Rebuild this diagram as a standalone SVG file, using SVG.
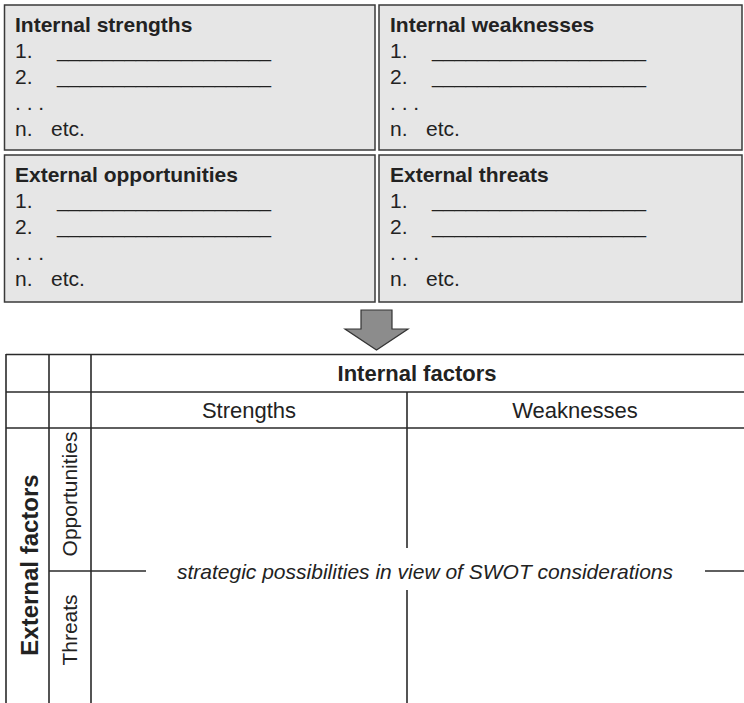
<svg xmlns="http://www.w3.org/2000/svg" width="744" height="703" viewBox="0 0 744 703">
  <style>
    .box { fill: #e6e6e6; stroke: #3a3a3a; stroke-width: 1.5; }
    .head { font-family: "Liberation Sans", Arial, sans-serif; font-weight: bold; font-size: 21px; fill: #222; }
    .item { font-family: "Liberation Sans", Arial, sans-serif; font-size: 21px; fill: #222; }
    .col { font-family: "Liberation Sans", Arial, sans-serif; font-size: 22px; fill: #222; }
    .title { font-family: "Liberation Sans", Arial, sans-serif; font-weight: bold; font-size: 22px; fill: #222; }
    .side { font-family: "Liberation Sans", Arial, sans-serif; font-weight: bold; font-size: 24px; fill: #222; }
    .grid { stroke: #2a2a2a; stroke-width: 1.6; fill: none; }
    .note { font-family: "Liberation Sans", Arial, sans-serif; font-style: italic; font-size: 21px; fill: #222; }
  </style>

  <!-- four input boxes -->
  <g id="internal-strengths">
    <rect class="box" x="4.5" y="5" width="370.5" height="145"/>
    <text class="head" x="15" y="32">Internal strengths</text>
    <text class="item" x="15" y="58">1.</text>
    <text class="item" x="57" y="57" textLength="214" lengthAdjust="spacingAndGlyphs">___________________</text>
    <text class="item" x="15" y="84">2.</text>
    <text class="item" x="57" y="83" textLength="214" lengthAdjust="spacingAndGlyphs">___________________</text>
    <text class="item" x="15" y="110">. . .</text>
    <text class="item" x="15" y="136">n.</text>
    <text class="item" x="51" y="136">etc.</text>
  </g>

  <g id="internal-weaknesses">
    <rect class="box" x="379" y="5" width="363" height="145"/>
    <text class="head" x="390" y="32">Internal weaknesses</text>
    <text class="item" x="390" y="58">1.</text>
    <text class="item" x="432" y="57" textLength="214" lengthAdjust="spacingAndGlyphs">___________________</text>
    <text class="item" x="390" y="84">2.</text>
    <text class="item" x="432" y="83" textLength="214" lengthAdjust="spacingAndGlyphs">___________________</text>
    <text class="item" x="390" y="110">. . .</text>
    <text class="item" x="390" y="136">n.</text>
    <text class="item" x="426" y="136">etc.</text>
  </g>

  <g id="external-opportunities">
    <rect class="box" x="4.5" y="155" width="370.5" height="147"/>
    <text class="head" x="15" y="182">External opportunities</text>
    <text class="item" x="15" y="208">1.</text>
    <text class="item" x="57" y="207" textLength="214" lengthAdjust="spacingAndGlyphs">___________________</text>
    <text class="item" x="15" y="234">2.</text>
    <text class="item" x="57" y="233" textLength="214" lengthAdjust="spacingAndGlyphs">___________________</text>
    <text class="item" x="15" y="260">. . .</text>
    <text class="item" x="15" y="286">n.</text>
    <text class="item" x="51" y="286">etc.</text>
  </g>

  <g id="external-threats">
    <rect class="box" x="379" y="155" width="363" height="147"/>
    <text class="head" x="390" y="182">External threats</text>
    <text class="item" x="390" y="208">1.</text>
    <text class="item" x="432" y="207" textLength="214" lengthAdjust="spacingAndGlyphs">___________________</text>
    <text class="item" x="390" y="234">2.</text>
    <text class="item" x="432" y="233" textLength="214" lengthAdjust="spacingAndGlyphs">___________________</text>
    <text class="item" x="390" y="260">. . .</text>
    <text class="item" x="390" y="286">n.</text>
    <text class="item" x="426" y="286">etc.</text>
  </g>

  <!-- block arrow down to the matrix -->
  <g id="connectors">
    <polygon points="361,310 392,310 392,329 408,329 376.5,350 345,329 361,329" fill="#8c8c8c" stroke="#333" stroke-width="1.2" stroke-linejoin="miter"/>
  </g>

  <!-- SWOT matrix -->
  <g id="matrix">
    <!-- horizontal rules -->
    <line class="grid" x1="6" y1="354.5" x2="744" y2="354.5"/>
    <line class="grid" x1="6" y1="392" x2="744" y2="392"/>
    <line class="grid" x1="6" y1="428" x2="744" y2="428"/>
    <!-- vertical rules -->
    <line class="grid" x1="6" y1="354" x2="6" y2="703"/>
    <line class="grid" x1="49" y1="354" x2="49" y2="703"/>
    <line class="grid" x1="91" y1="354" x2="91" y2="703"/>
    <line class="grid" x1="407" y1="392" x2="407" y2="548"/>
    <line class="grid" x1="407" y1="590" x2="407" y2="703"/>
    <!-- opportunities / threats divider, broken by the note -->
    <line class="grid" x1="49" y1="571" x2="146" y2="571"/>
    <line class="grid" x1="705" y1="571" x2="744" y2="571"/>

    <text class="title" x="417" y="381" text-anchor="middle">Internal factors</text>
    <text class="col" x="249" y="418" text-anchor="middle">Strengths</text>
    <text class="col" x="575" y="418" text-anchor="middle">Weaknesses</text>

    <text class="side" transform="translate(38,565) rotate(-90)" text-anchor="middle">External factors</text>
    <text class="item" transform="translate(77,494) rotate(-90)" text-anchor="middle">Opportunities</text>
    <text class="item" transform="translate(77,630) rotate(-90)" text-anchor="middle">Threats</text>

    <text class="note" x="425" y="579" text-anchor="middle">strategic possibilities in view of SWOT considerations</text>
  </g>
</svg>
